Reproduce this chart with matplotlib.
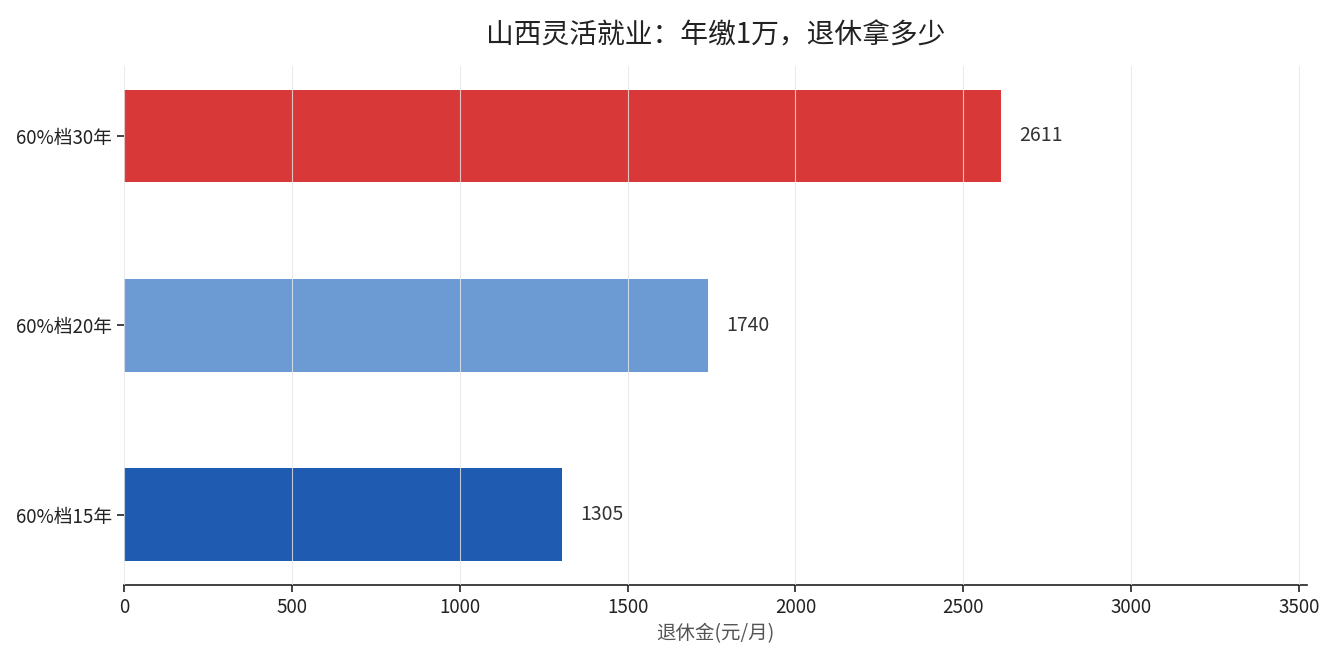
import matplotlib
matplotlib.use('Agg')
import matplotlib.pyplot as plt

plt.rcParams['font.family'] = ['Noto Sans CJK SC', 'DejaVu Sans']

# 数据
categories = ['60%档15年', '60%档20年', '60%档30年']
pensions = [1305, 1740, 2611]
bar_colors = ['#1f5bb0', '#6c9bd4', '#d93838']

fig, ax = plt.subplots(figsize=(13.34, 6.6), dpi=100)
fig.subplots_adjust(left=0.093, right=0.98, top=0.9, bottom=0.114)

bars = ax.barh(categories, pensions, height=0.49, color=bar_colors, zorder=1)

# 数值标签
for y, v in enumerate(pensions):
    ax.text(v + 55, y, f'{v}', va='center', ha='left', fontsize=14, color='#333333')

ax.set_xlim(0, max(pensions) * 1.35)
ax.set_xlabel('退休金(元/月)', fontsize=14, color='#555555', labelpad=4)
ax.set_title('山西灵活就业：年缴1万，退休拿多少', fontsize=20, color='#222222', pad=16)

ax.grid(axis='x', color='#e6e6e6', linewidth=0.8, alpha=0.8, zorder=2)
ax.set_axisbelow(False)

for side in ['top', 'right', 'left']:
    ax.spines[side].set_visible(False)
ax.spines['bottom'].set_color('#222222')
ax.spines['bottom'].set_linewidth(1.2)
ax.tick_params(axis='both', labelsize=13.5, colors='#222222', length=5, width=1.2)

fig.savefig('out.png', dpi=100)
